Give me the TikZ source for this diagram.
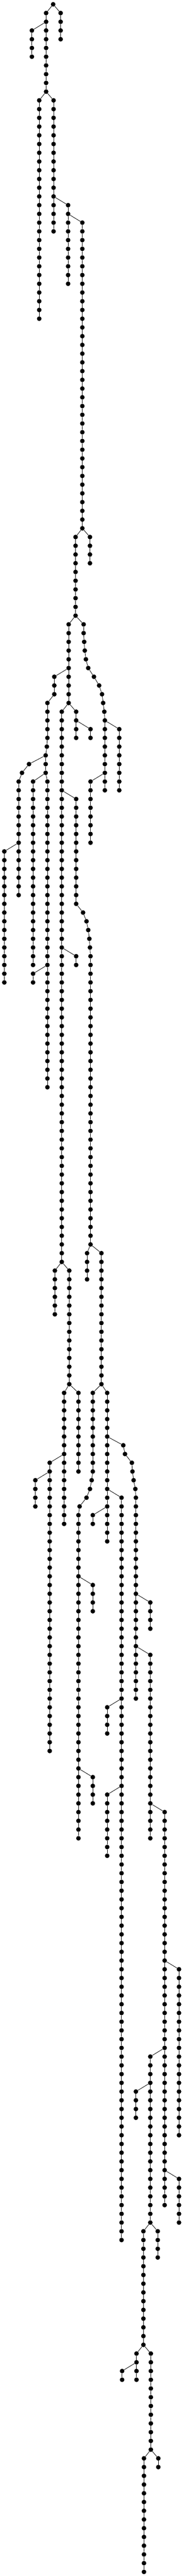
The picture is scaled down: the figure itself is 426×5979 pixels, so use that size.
\documentclass[tikz,border=0pt]{standalone}
\begin{document}
\newcommand\mkvchain[4]{% name, x, first row, last row
  \foreach \k in {#3,...,#4}{\node[dot] (#1-\k) at (#2,{10+20.27*\k}) {};}
  \foreach \k in {#3,...,#4}{\ifnum\k>#3\relax\pgfmathtruncatemacro\kp{\k-1}\draw[edge] (#1-\kp) -- (#1-\k);\fi}
}
\newcommand\mkxchain[3]{% name, first row, x list
  \foreach \xx [count=\k from #2] in {#3}{\node[dot] (#1-\k) at (\xx,{10+20.27*\k}) {};}
  \foreach \xx [count=\k from #2] in {#3}{\ifnum\k>#2\relax\pgfmathtruncatemacro\kp{\k-1}\draw[edge] (#1-\kp) -- (#1-\k);\fi}
}
\begin{tikzpicture}[x=1pt,y=-1pt,
  dot/.style={circle,fill=black,draw=none,inner sep=0pt,minimum size=10.7pt},
  edge/.style={draw=black,line width=1pt}]
\useasboundingbox (0,0) rectangle (426,5979);
\node[dot] (root) at (123.3,10) {};
\mkvchain{A}{107}{1}{10}
\mkvchain{B}{140.7}{1}{4}
\mkvchain{C}{74}{3}{6}
\mkvchain{D}{91}{11}{36}
\mkvchain{E}{124.3}{11}{26}
\mkvchain{F}{158}{23}{32}
\mkvchain{G}{191}{25}{60}
\mkvchain{H}{175.3}{61}{70}
\mkvchain{I}{208.7}{61}{64}
\mkvchain{J}{159.3}{71}{80}
\mkxchain{K}{71}{194,194,195.3,196.7,199.3,204.7,218,230,236.7,239.3,242,243.3,243.3,243.3,243.3,243.3,243.3,243.3,243.3,243.3}
\mkvchain{L}{276.7}{83}{90}
\mkvchain{M}{210}{89}{96}
\mkxchain{N}{77}{126,126,126,110,110,110,110,110,108.7,106,106,106,110}
\mkvchain{N}{110}{90}{124}
\draw[edge] (N-89) -- (N-90);
\mkvchain{O}{143.3}{81}{144}
\mkvchain{P}{176.7}{81}{84}
\mkvchain{Q}{210}{83}{84}
\mkvchain{R}{176.7}{91}{103}
\mkxchain{R}{104}{192.7,200.7,204.7,207.3,208.7}
\mkvchain{R}{210}{109}{142}
\draw[edge] (R-103) -- (R-104);
\draw[edge] (R-108) -- (R-109);
\mkxchain{S}{87}{67.3,51}
\mkvchain{S}{43.3}{89}{102}
\draw[edge] (S-88) -- (S-89);
\mkvchain{T}{76.7}{89}{110}
\mkvchain{U}{10}{97}{112}
\mkvchain{V}{76.7}{111}{112}
\mkvchain{W}{176.7}{109}{110}
\mkvchain{X}{202}{143}{146}
\mkvchain{Y}{235.3}{143}{158}
\mkvchain{Z}{127.3}{145}{150}
\mkvchain{ZZ}{160.7}{145}{158}
\mkvchain{AC}{148.7}{159}{174}
\mkvchain{AD}{182}{159}{168}
\mkvchain{AE}{115.3}{167}{200}
\mkvchain{AF}{82}{169}{172}
\mkvchain{AA}{215.3}{159}{168}
\mkxchain{AA}{169}{212.7,208.7,200.7,184.7}
\mkvchain{AA}{182}{173}{210}
\draw[edge] (AA-168) -- (AA-169);
\draw[edge] (AA-172) -- (AA-173);
\mkvchain{AB}{248.7}{159}{176}
\mkxchain{AG}{165}{286,290,306,307.3,310,314}
\mkvchain{AG}{315.3}{171}{194}
\draw[edge] (AG-170) -- (AG-171);
\mkvchain{AH}{215.3}{181}{184}
\mkvchain{AI}{282}{171}{256}
\mkvchain{AJ}{215.3}{173}{174}
\mkvchain{AK}{248.7}{195}{198}
\mkvchain{AL}{348.7}{183}{186}
\mkvchain{AM}{348.7}{189}{210}
\mkvchain{AN}{215.3}{203}{206}
\mkvchain{AO}{248.7}{205}{212}
\mkvchain{AP}{382}{207}{252}
\mkvchain{AQ}{415.3}{225}{244}
\mkvchain{AR}{348.7}{235}{254}
\mkvchain{AS}{315.3}{239}{242}
\mkvchain{AY}{415.3}{249}{254}
\mkvchain{AT}{332.7}{255}{268}
\mkvchain{AU}{366}{255}{258}
\mkvchain{AV}{316.7}{269}{272}
\mkvchain{AX}{283.3}{271}{272}
\mkvchain{AW}{350}{269}{280}
\mkvchain{AZ}{334}{281}{294}
\mkvchain{BA}{367.3}{281}{282}
% branch connectors
\draw[edge] (root) -- (A-1);
\draw[edge] (root) -- (B-1);
\draw[edge] (A-2) -- (C-3);
\draw[edge] (A-10) -- (D-11);
\draw[edge] (A-10) -- (E-11);
\draw[edge] (E-22) -- (F-23);
\draw[edge] (F-24) -- (G-25);
\draw[edge] (G-60) -- (H-61);
\draw[edge] (G-60) -- (I-61);
\draw[edge] (H-70) -- (J-71);
\draw[edge] (H-70) -- (K-71);
\draw[edge] (K-82) -- (L-83);
\draw[edge] (K-88) -- (M-89);
\draw[edge] (J-76) -- (N-77);
\draw[edge] (J-80) -- (O-81);
\draw[edge] (J-80) -- (P-81);
\draw[edge] (P-82) -- (Q-83);
\draw[edge] (O-90) -- (R-91);
\draw[edge] (N-86) -- (S-87);
\draw[edge] (N-88) -- (T-89);
\draw[edge] (S-96) -- (U-97);
\draw[edge] (N-110) -- (V-111);
\draw[edge] (O-108) -- (W-109);
\draw[edge] (R-142) -- (X-143);
\draw[edge] (R-142) -- (Y-143);
\draw[edge] (O-144) -- (Z-145);
\draw[edge] (O-144) -- (ZZ-145);
\draw[edge] (ZZ-158) -- (AC-159);
\draw[edge] (ZZ-158) -- (AD-159);
\draw[edge] (AC-166) -- (AE-167);
\draw[edge] (AE-168) -- (AF-169);
\draw[edge] (Y-158) -- (AA-159);
\draw[edge] (Y-158) -- (AB-159);
\draw[edge] (AB-164) -- (AG-165);
\draw[edge] (AA-180) -- (AH-181);
\draw[edge] (AB-170) -- (AI-171);
\draw[edge] (AB-172) -- (AJ-173);
\draw[edge] (AI-194) -- (AK-195);
\draw[edge] (AG-182) -- (AL-183);
\draw[edge] (AG-188) -- (AM-189);
\draw[edge] (AA-202) -- (AN-203);
\draw[edge] (AI-204) -- (AO-205);
\draw[edge] (AM-206) -- (AP-207);
\draw[edge] (AP-224) -- (AQ-225);
\draw[edge] (AP-234) -- (AR-235);
\draw[edge] (AR-238) -- (AS-239);
\draw[edge] (AP-248) -- (AY-249);
\draw[edge] (AR-254) -- (AT-255);
\draw[edge] (AR-254) -- (AU-255);
\draw[edge] (AT-268) -- (AV-269);
\draw[edge] (AT-268) -- (AW-269);
\draw[edge] (AV-270) -- (AX-271);
\draw[edge] (AW-280) -- (AZ-281);
\draw[edge] (AW-280) -- (BA-281);
\end{tikzpicture}
\end{document}
